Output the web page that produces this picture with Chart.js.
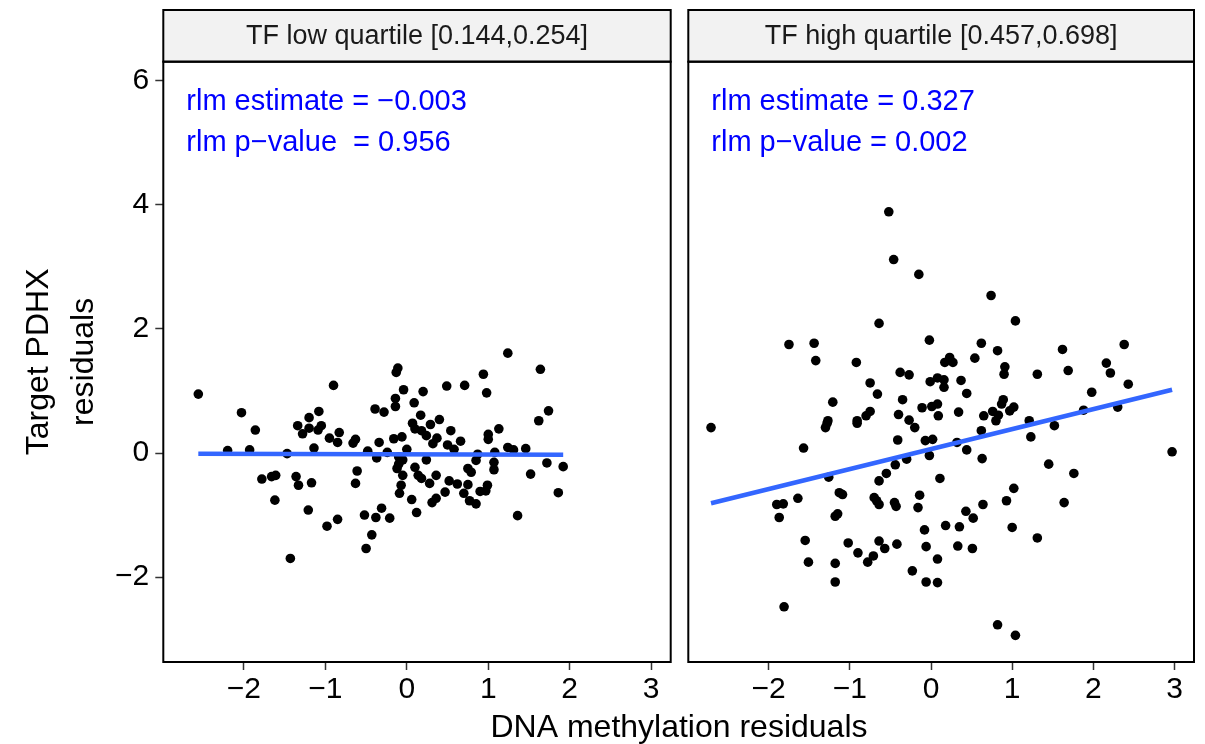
<!DOCTYPE html>
<html>
<head>
<meta charset="utf-8">
<script src="https://cdn.jsdelivr.net/npm/chart.js@4.4.1/dist/chart.umd.min.js"></script>
<style>
  html, body { margin: 0; padding: 0; background: #fff; }
  #wrap { position: relative; width: 1205px; height: 744px; }
  #wrap canvas { position: absolute; left: 0; top: 0; }
</style>
</head>
<body>
<div id="wrap">
  <canvas id="lowChart" width="1205" height="744"></canvas>
  <canvas id="highChart" width="1205" height="744"></canvas>
</div>
<script>
// texts
const panelTitles = ['TF low quartile [0.144,0.254]', 'TF high quartile [0.457,0.698]'];
const estimateLabels = ['rlm estimate = \u22120.003', 'rlm estimate = 0.327'];
const pvalueLabels = ['rlm p\u2212value  = 0.956', 'rlm p\u2212value = 0.002'];
const xTitle = 'DNA methylation residuals';
const yTitle = ['Target PDHX', 'residuals'];

// axes
const xTickValues = [-2, -1, 0, 1, 2, 3];
const yTickValues = [-2, 0, 2, 4, 6];
const xLimits = [-2.99, 3.24];
const yLimits = [-3.37, 6.31];

// TF low quartile: residual points
const lowX = [-2.56, -0.90, -2.03, -1.86, -2.20, -1.93, -1.47, -1.34, -1.20, -1.08, -1.20, -1.28, -1.05, -1.09, -1.14,
  -0.95, -0.83, -0.85, -0.66, -0.63, -0.39, -0.28, -0.34, -0.48, -0.37, -0.24, -1.78, -1.66, -1.61, -1.36, -1.33,
  -1.17, -1.62, -0.61, -0.63, -1.21, -0.85, -0.98, -0.52, -0.38, -0.31, -0.21, -0.43, -0.50, -1.43,
  1.24, -0.11, -0.13, 1.64, 0.94, -0.04, 0.20, 0.49, 0.71, 0.98, -0.14, -0.14, 0.09, 1.74, 1.62, 0.17, 0.07, 0.29,
  0.40, 0.10, 0.18, 0.24, 0.37, 0.32, 0.54, 0.66, 0.50, 0.58, 1.13, 1.00, 1.00, -0.16, -0.06, 0.00, 0.87, 1.08,
  1.24, 1.31, 1.46, 0.85, 1.07, 1.07, 0.75, 0.79, 1.72, 1.92, 1.52, 1.86, 1.36, -0.10, -0.10, -0.05, -0.12, -0.05,
  0.10, 0.14, 0.24, 0.18, 0.28, 0.36, -0.07, -0.09, 0.06, 0.12, 0.31, 0.36, 0.47, 0.52, 0.62, 0.75, 0.70, 0.77,
  0.85, 0.90, 0.97, 0.99];
const lowY = [0.95, 1.09, 0.65, 0.37, 0.04, 0.05, -0.01, 0.44, 0.57, 0.67, 0.40, 0.31, 0.44, 0.37, 0.08,
  0.24, 0.33, 0.17, 0.16, 0.22, 0.71, 0.66, 0.17, 0.03, -0.08, 0.01, -0.42, -0.38, -0.36, -0.38, -0.52,
  -0.48, -0.76, -0.29, -0.49, -0.92, -1.07, -1.18, -1.00, -1.04, -0.89, -1.05, -1.32, -1.54, -1.70,
  1.61, 1.37, 1.30, 1.35, 1.27, 1.02, 0.99, 1.08, 1.09, 0.97, 0.88, 0.75, 0.81, 0.68, 0.52, 0.61, 0.48, 0.46,
  0.54, 0.39, 0.36, 0.28, 0.24, 0.15, 0.36, 0.19, 0.13, 0.06, 0.39, 0.30, 0.22, 0.23, 0.26, 0.06, -0.02, 0.01,
  0.09, 0.05, 0.07, -0.12, -0.15, -0.27, -0.25, -0.31, -0.16, -0.22, -0.34, -0.64, -1.01, -0.06, -0.18, -0.11, -0.25, -0.36,
  -0.23, -0.36, -0.11, -0.41, -0.49, -0.36, -0.52, -0.65, -0.75, -0.96, -0.80, -0.73, -0.63, -0.45, -0.50, -0.51, -0.65, -0.77,
  -0.82, -0.62, -0.61, -0.52];

// TF high quartile: residual points
const highX = [-0.52, -0.46, -0.15, -0.64, -1.75, -1.44, -1.42, -0.92, -0.02, -0.38, -0.27, -0.75, -0.66, -0.01, 0.08,
  -1.21, -0.35, -0.11, 0.01, 0.08, -0.75, -0.80, -0.40, -1.27, -0.91, 0.09, -0.27,
  0.74, 1.04, 0.62, 0.82, 1.62, 2.38, 0.54, 0.17, 0.23, 0.27, 0.91, 0.90, 1.31, 1.69, 2.16, 2.21, 2.43, 1.98,
  0.16, 0.16, 0.37, 0.44, 0.34, 0.65, 0.76, 0.87, 0.89, 0.83, 0.97, 1.02, 1.21, 1.88, 2.30,
  -2.71, -1.28, -1.30, -0.91, -0.20, -1.57, -0.41, -0.07, 0.02, -0.02, -0.30, -0.44, -0.55, -0.64, -1.26, 0.11,
  -1.90, -1.82, -1.64, -1.87, -1.13, -1.09, -1.18, -1.15, -0.70, -0.67, -0.64, -0.45, -0.43, -0.14, -0.16, -0.08,
  -1.55, -1.51, -1.02, -0.90, -0.78, -0.71, -0.64, -0.57, -0.42, -0.06, -1.18, -1.18, -0.23, -0.06, -1.81,
  0.80, 1.52, 1.23, 0.62, 0.32, 0.44, 0.63, 2.97, 1.45, 1.76, 1.02, 0.93, 1.64, 0.64, 0.43, 0.52, 0.18, 0.35,
  1.00, 1.31, 0.33, 0.51, 0.08, 0.08, 0.82, 1.04];
const highY = [3.89, 3.12, 2.88, 2.09, 1.75, 1.77, 1.49, 1.46, 1.82, 1.30, 1.26, 1.13, 0.95, 1.15, 1.21,
  0.82, 0.86, 0.73, 0.75, 0.79, 0.67, 0.60, 0.62, 0.52, 0.52, 0.60, 0.53,
  2.54, 2.13, 1.77, 1.65, 1.67, 1.75, 1.53, 1.46, 1.54, 1.46, 1.39, 1.27, 1.27, 1.33, 1.45, 1.29, 1.11, 0.98,
  1.18, 1.06, 1.17, 0.96, 0.66, 0.60, 0.67, 0.79, 0.86, 0.61, 0.68, 0.74, 0.52, 0.69, 0.74,
  0.41, 0.48, 0.41, 0.48, 0.41, 0.08, 0.21, 0.20, 0.22, -0.04, -0.10, -0.19, -0.33, -0.45, -0.39, -0.41,
  -0.83, -0.82, -0.73, -1.04, -0.64, -0.67, -1.02, -0.98, -0.72, -0.77, -0.83, -0.80, -0.86, -0.68, -0.88, -1.24,
  -1.41, -1.76, -1.45, -1.61, -1.76, -1.66, -1.42, -1.54, -1.47, -1.51, -1.78, -2.08, -1.90, -2.08, -2.48,
  0.52, 0.44, 0.26, 0.36, 0.17, 0.05, -0.09, 0.02, -0.18, -0.33, -0.57, -0.77, -0.80, -0.83, -0.94, -1.05, -1.17, -1.19,
  -1.20, -1.37, -1.50, -1.54, -1.71, -2.09, -2.77, -2.94];

// rlm fit lines (end points)
const lowFitX = [-2.56, 1.92];
const lowFitY = [-0.01, -0.03];
const highFitX = [-2.71, 2.97];
const highFitY = [-0.81, 1.02];

Chart.defaults.font.family = "'Liberation Sans', Arial, Helvetica, sans-serif";
Chart.defaults.color = '#000';

const fmt = (v) => (v < 0 ? '\u2212' + Math.abs(v) : String(v));
const toPts = (xs, ys) => xs.map((x, i) => ({ x: x, y: ys[i] }));

// strip, panel border and rlm text
const facetPlugin = {
    id: 'facet',
    afterDraw(chart, args, opts) {
        const ctx = chart.ctx;
        const a = chart.chartArea;
        ctx.save();
        // strip
        ctx.fillStyle = '#F2F2F2';
        ctx.fillRect(a.left, 10, a.right - a.left, a.top - 10);
        ctx.lineWidth = 2;
        ctx.strokeStyle = '#000';
        ctx.strokeRect(a.left, 10, a.right - a.left, a.top - 10);
        ctx.strokeRect(a.left, a.top, a.right - a.left, a.bottom - a.top);
        ctx.fillStyle = '#1a1a1a';
        ctx.font = "27px 'Liberation Sans', Arial, sans-serif";
        ctx.textAlign = 'center';
        ctx.textBaseline = 'middle';
        ctx.fillText(panelTitles[opts.index], (a.left + a.right) / 2, 37);
        // rlm stats
        ctx.fillStyle = '#0000FF';
        ctx.font = "29px 'Liberation Sans', Arial, sans-serif";
        ctx.textAlign = 'left';
        ctx.textBaseline = 'alphabetic';
        ctx.fillText(estimateLabels[opts.index], a.left + 23, 110);
        ctx.fillText(pvalueLabels[opts.index], a.left + 23, 151);
        // shared x title
        if (opts.index === 0) {
            ctx.fillStyle = '#000';
            ctx.font = "32px 'Liberation Sans', Arial, sans-serif";
            ctx.textAlign = 'center';
            ctx.fillText(xTitle, 679, 737);
        }
        ctx.restore();
    }
};

function makePanel(canvasId, index, xs, ys, fitX, fitY, padding) {
    const ctx = document.getElementById(canvasId).getContext('2d');
    return new Chart(ctx, {
        type: 'scatter',
        data: {
            datasets: [{
                data: toPts(fitX, fitY),
                showLine: true,
                borderColor: '#3366FF',
                borderWidth: 4.5,
                pointRadius: 0,
                order: 0
            }, {
                data: toPts(xs, ys),
                backgroundColor: '#000',
                borderWidth: 0,
                pointRadius: 4.8,
                order: 1
            }]
        },
        options: {
            responsive: false,
            animation: false,
            devicePixelRatio: 1,
            layout: { padding: padding },
            plugins: {
                legend: { display: false },
                tooltip: { enabled: false },
                facet: { index: index }
            },
            scales: {
                x: {
                    type: 'linear',
                    min: xLimits[0],
                    max: xLimits[1],
                    afterBuildTicks: (s) => { s.ticks = xTickValues.map(v => ({ value: v })); },
                    afterFit: (s) => { s.height = 82; },
                    ticks: { font: { size: 30 }, color: '#000', padding: 2, callback: fmt, maxRotation: 0 },
                    grid: { drawOnChartArea: false, drawTicks: true, tickLength: 8, tickColor: '#333', tickWidth: 1.5 },
                    border: { display: false }
                },
                y: {
                    type: 'linear',
                    display: index === 0,
                    min: yLimits[0],
                    max: yLimits[1],
                    afterBuildTicks: (s) => { s.ticks = yTickValues.map(v => ({ value: v })); },
                    afterFit: (s) => { s.width = index === 0 ? 163.3 : 0; },
                    ticks: { font: { size: 30 }, color: '#000', padding: 6, callback: fmt },
                    grid: { drawOnChartArea: false, drawTicks: true, tickLength: 8, tickColor: '#333', tickWidth: 1.5 },
                    border: { display: false },
                    title: {
                        display: true,
                        text: yTitle,
                        color: '#000',
                        font: { size: 32, lineHeight: 1.42 },
                        padding: { top: 16, bottom: 0 }
                    }
                }
            }
        },
        plugins: [facetPlugin]
    });
}

window.addEventListener('load', () => {
    makePanel('lowChart', 0, lowX, lowY, lowFitX, lowFitY, { top: 61.7, left: 0, right: 1205 - 670.7, bottom: 0 });
    makePanel('highChart', 1, highX, highY, highFitX, highFitY, { top: 61.7, left: 688.3, right: 1205 - 1194, bottom: 0 });
});
</script>
</body>
</html>
